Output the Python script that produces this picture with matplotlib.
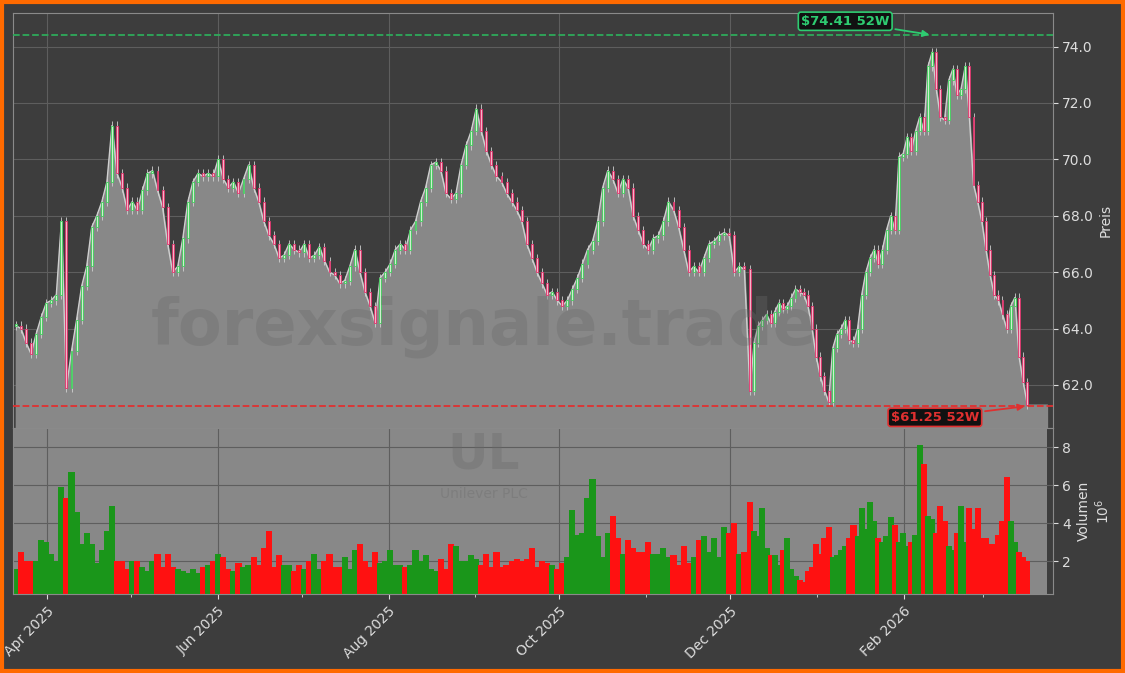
import numpy as np
import pandas as pd
import matplotlib
matplotlib.use("Agg")
import matplotlib.pyplot as plt
import matplotlib.dates as mdates

close = [64.1, 64.0, 63.5, 63.1, 63.8, 64.4, 64.9, 65.0, 65.2, 67.8,
         61.9, 63.2, 64.3, 65.5, 66.2, 67.6, 68.0, 68.5, 69.2, 71.2,
         69.5, 69.0, 68.2, 68.5, 68.2, 68.9, 69.5, 69.6, 68.9, 68.3,
         67.0, 66.0, 66.2, 67.2, 68.5, 69.2, 69.5, 69.4, 69.5, 69.4,
         70.0, 69.3, 69.0, 69.2, 68.8, 69.3, 69.8, 69.0, 68.5, 67.8,
         67.3, 67.0, 66.5, 66.6, 67.0, 66.8, 66.7, 67.0, 66.5, 66.6,
         66.9, 66.4, 66.0, 65.9, 65.6, 65.7, 66.2, 66.8, 66.0, 65.3,
         64.8, 64.2, 65.8, 66.0, 66.3, 66.8, 67.0, 66.8, 67.5, 67.8,
         68.5, 69.0, 69.8, 69.9, 69.6, 68.8, 68.6, 68.8, 69.8, 70.5,
         71.0, 71.8, 71.0, 70.3, 69.8, 69.4, 69.2, 68.8, 68.5, 68.2,
         67.8, 67.0, 66.5, 66.0, 65.6, 65.2, 65.3, 65.0, 64.8, 65.0,
         65.4, 65.8, 66.3, 66.8, 67.1, 67.8, 69.0, 69.6, 69.3, 68.8,
         69.3, 69.0, 68.0, 67.5, 67.0, 66.8, 67.2, 67.3, 67.8, 68.5,
         68.2, 67.6, 66.8, 66.0, 66.2, 66.0, 66.5, 67.0, 67.1, 67.3,
         67.4, 67.3, 66.0, 66.2, 66.1,
         61.8, 63.5, 64.1, 64.3, 64.5,
         64.2, 64.6, 64.9, 64.7, 64.8, 65.1, 65.4, 65.3, 65.2, 64.8,
         64.0, 63.0, 62.3, 61.8, 61.4, 63.3, 63.8, 64.0, 64.3, 63.6,
         63.5, 64.0, 65.2, 66.0, 66.5, 66.8, 66.3, 66.8, 67.5, 68.0,
         67.5, 70.1, 70.2, 70.8, 70.3, 71.0, 71.5, 71.0, 73.3, 73.8,
         72.5, 71.5, 71.4, 72.8, 73.2, 72.3, 72.5, 73.3, 71.5, 69.1,
         68.5, 67.8, 66.8, 65.9, 65.2, 65.0, 64.5, 64.0, 64.8, 65.1,
         63.0, 62.1, 61.3]

volume = [1.6, 2.5, 2.0, 2.0, 2.0, 3.1, 3.0, 2.4, 2.0, 5.9, 5.3, 6.7, 4.6, 2.9, 3.5, 2.9, 1.9, 2.6, 3.6, 4.9,
          2.0, 2.0, 1.6, 2.0, 2.0, 1.7, 1.5, 2.0, 2.4, 1.7, 2.4, 1.7, 1.6, 1.5, 1.4, 1.6, 1.4, 1.7, 1.8, 2.0,
          2.4, 2.2, 1.6, 1.5, 1.9, 1.7, 1.8, 2.2, 1.8, 2.7, 3.6, 1.7, 2.3, 1.8, 1.8, 1.5, 1.8, 1.6, 2.0, 2.4,
          1.6, 2.0, 2.4, 1.7, 1.7, 2.2, 1.6, 2.6, 2.9, 2.0, 1.7, 2.5, 1.9, 2.0, 2.6, 1.8, 1.8, 1.7, 1.8, 2.6,
          2.0, 2.3, 1.6, 1.5, 2.1, 1.6, 2.9, 2.8, 2.0, 2.0, 2.3, 2.1, 1.8, 2.4, 1.7, 2.5, 1.7, 1.8, 2.0, 2.1,
          2.0, 2.1, 2.7, 1.7, 2.0, 1.9, 1.8, 1.6, 1.9, 2.2, 4.7, 3.4, 3.5, 5.3, 6.3, 3.3, 2.2, 3.5, 4.4, 3.2,
          2.4, 3.1, 2.7, 2.5, 2.5, 3.0, 2.4, 2.4, 2.7, 2.2, 2.3, 1.8, 2.8, 1.9, 2.2, 3.1, 3.3, 2.5, 3.2, 2.2,
          3.8, 3.5, 4.0, 2.4, 2.5, 5.1, 3.6, 3.3, 4.8, 2.7, 2.3, 2.3, 1.8, 2.6, 3.2, 1.6, 1.2, 1.0, 0.9, 1.5,
          1.7, 2.9, 2.4, 3.2, 3.8, 2.2, 2.3, 2.6, 2.8, 3.2, 3.9, 3.3, 4.8, 3.7, 5.1, 4.1, 3.2, 3.0, 3.3, 4.3,
          3.9, 3.0, 3.5, 2.8, 3.0, 3.4, 8.1, 7.1, 4.4, 4.2, 3.5, 4.9, 4.1, 2.8, 2.6, 3.5, 4.9, 3.0, 4.8, 3.7,
          4.8, 3.2, 3.2, 2.9, 2.9, 3.4, 4.1, 6.4, 4.1, 3.0, 2.5, 2.2, 2.0]

high_52w = 74.41
low_52w = 61.25
yticks_price = [62.0, 64.0, 66.0, 68.0, 70.0, 72.0, 74.0]
yticks_vol = [2, 4, 6, 8]

n = len(close)
n1 = 145
d1 = pd.date_range("2025-03-21", "2025-12-06", periods=n1)
d2 = pd.date_range("2025-12-08", "2026-03-17", periods=n - n1)
dates = np.array(list(d1) + list(d2))
opens = [close[0]] + close[:-1]
up = [c >= o for c, o in zip(close, opens)]

BG = "#3d3d3d"
FILL = "#888888"
TXT = "#dddddd"
fig = plt.figure(figsize=(11.25, 6.73), dpi=100, facecolor=BG)
fig.patches.append(plt.Rectangle((0.002, 0.003), 0.996, 0.994, transform=fig.transFigure,
                                 fill=False, edgecolor="#ff6a00", lw=3))
ax = fig.add_axes([0.0116, 0.364, 0.924, 0.617], facecolor=BG)
axv = fig.add_axes([0.0116, 0.117, 0.924, 0.247], facecolor=BG, sharex=ax)

xend = pd.Timestamp("2026-03-24")
xlim = (pd.Timestamp("2025-03-20"), pd.Timestamp("2026-03-26"))
ymin = 60.47
fx = list(dates) + [xend]
fy = close + [close[-1]]
ax.fill_between(fx, fy, ymin, color=FILL, zorder=1)
ax.plot(dates, close, color="#cfcfcf", lw=1, zorder=2)

w = 0.7
for d, o, c, u in zip(dates, opens, close, up):
    lo, hi = min(o, c), max(o, c)
    ax.vlines(d, lo - 0.15, hi + 0.15, color="#d0d0d0", lw=0.6, zorder=3)
    ec = "#3ecf5a" if u else "#e0306a"
    fc = "#cfeecf" if u else "#f3b6c8"
    ax.bar(d, max(hi - lo, 0.05), bottom=lo, width=w, color=fc, edgecolor=ec, lw=0.6, zorder=4)

ax.axhline(high_52w, color="#2eaa5a", ls="--", lw=1.3, zorder=5)
ax.axhline(low_52w, color="#e03030", ls="--", lw=1.3, zorder=5)
imax = int(np.argmax(close))
ax.annotate("\\$74.41 52W", xy=(dates[imax], high_52w), xytext=(pd.Timestamp("2026-01-11"), 74.9),
            color="#2ecc71", fontsize=9.5, fontweight="bold", ha="center", va="center",
            bbox=dict(boxstyle="round,pad=0.2", fc="#111111", ec="#2ecc71", lw=1.2),
            arrowprops=dict(arrowstyle="-|>", color="#2ecc71", lw=1.3), zorder=6)
ax.annotate("\\$61.25 52W", xy=(dates[-1], low_52w), xytext=(pd.Timestamp("2026-02-12"), 60.85),
            color="#e03030", fontsize=9.5, fontweight="bold", ha="center", va="center",
            bbox=dict(boxstyle="round,pad=0.2", fc="#111111", ec="#e03030", lw=1.2),
            arrowprops=dict(arrowstyle="-|>", color="#e03030", lw=1.3), zorder=6)

ax.set_ylim(ymin, 75.2)
ax.set_yticks(yticks_price)
ax.yaxis.set_major_formatter(matplotlib.ticker.FormatStrFormatter("%.1f"))
ax.yaxis.tick_right()
ax.yaxis.set_label_position("right")
ax.set_ylabel("Preis", color=TXT, fontsize=10)
ax.tick_params(axis="x", which="both", labelbottom=False, length=0)

vcol = ["#1a961a" if u else "#ff1111" for u in up]
axv.axvspan(xlim[0], xend, color=FILL, zorder=0, lw=0)
axv.bar(dates, volume, width=2.2, color=vcol, zorder=2, lw=0)
axv.set_ylim(0.26, 9.0)
axv.set_yticks(yticks_vol)
axv.yaxis.tick_right()
axv.yaxis.set_label_position("right")
axv.set_ylabel("Volumen\n$10^6$", color=TXT, fontsize=10)
axv.set_xlim(*xlim)
axv.xaxis.set_major_locator(mdates.MonthLocator(bymonth=[2, 4, 6, 8, 10, 12]))
axv.xaxis.set_minor_locator(mdates.MonthLocator())
axv.xaxis.set_major_formatter(mdates.DateFormatter("%b %Y"))
plt.setp(axv.get_xticklabels(), rotation=45, ha="right", rotation_mode="anchor")

for a in (ax, axv):
    a.grid(True, color="#5e5e5e", lw=0.8, zorder=0)
    a.set_axisbelow(True)
    a.tick_params(colors=TXT, labelsize=10, which="both")
    for s in a.spines.values():
        s.set_color("#8a8a8a")

fig.text(0.43, 0.515, "forexsignale.trade", fontsize=46, fontweight="bold", color="#6a6a6a",
         alpha=0.35, ha="center", va="center", zorder=10)
fig.text(0.43, 0.325, "UL", fontsize=36, fontweight="bold", color="#6a6a6a", alpha=0.35,
         ha="center", va="center", zorder=10)
fig.text(0.43, 0.266, "Unilever PLC", fontsize=10, color="#6a6a6a", alpha=0.35,
         ha="center", va="center", zorder=10)

fig.savefig("out.png", dpi=100, facecolor=BG)
